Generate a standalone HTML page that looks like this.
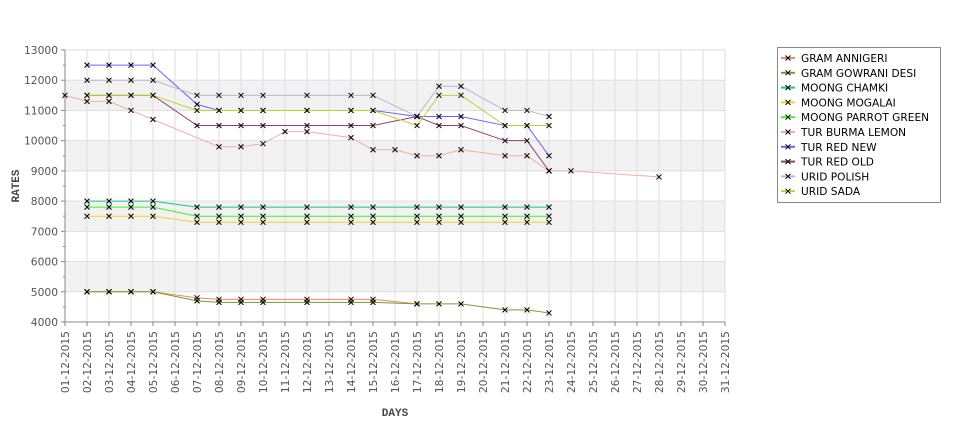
<!DOCTYPE html>
<html><head><meta charset="utf-8"><style>
body{margin:0;background:#fff;width:975px;height:429px;overflow:hidden;font-family:"DejaVu Sans","Liberation Sans",sans-serif}
</style></head><body>
<svg id="chart" width="975" height="429" xmlns="http://www.w3.org/2000/svg">
<g id="bands"></g><g id="grid"></g><g id="axes"></g><g id="series"></g><g id="legend"></g>
</svg>
<script>
const days = ["01-12-2015","02-12-2015","03-12-2015","04-12-2015","05-12-2015","06-12-2015","07-12-2015","08-12-2015","09-12-2015","10-12-2015","11-12-2015","12-12-2015","13-12-2015","14-12-2015","15-12-2015","16-12-2015","17-12-2015","18-12-2015","19-12-2015","20-12-2015","21-12-2015","22-12-2015","23-12-2015","24-12-2015","25-12-2015","26-12-2015","27-12-2015","28-12-2015","29-12-2015","30-12-2015","31-12-2015"];
const yTicks = [4000,5000,6000,7000,8000,9000,10000,11000,12000,13000];
const seriesNames = ["GRAM ANNIGERI","GRAM GOWRANI DESI","MOONG CHAMKI","MOONG MOGALAI","MOONG PARROT GREEN","TUR BURMA LEMON","TUR RED NEW","TUR RED OLD","URID POLISH","URID SADA"];
const seriesColors = ["#f08a60","#7a9a30","#20c090","#f0d030","#40f020","#f0b0a0","#7060ff","#904070","#b8b8d0","#c0d030"];
const dayGramAnnigeri = [2,3,4,5,7,8,9,10,12,14,15,17];
const valGramAnnigeri = [5000,5000,5000,5000,4800,4750,4750,4750,4750,4750,4750,4600];
const dayGramGowrani = [2,3,4,5,7,8,9,10,12,14,15,17,18,19,21,22,23];
const valGramGowrani = [5000,5000,5000,5000,4700,4650,4650,4650,4650,4650,4650,4600,4600,4600,4400,4400,4300];
const dayMoong = [2,3,4,5,7,8,9,10,12,14,15,17,18,19,21,22,23];
const valMoongChamki = [8000,8000,8000,8000,7800,7800,7800,7800,7800,7800,7800,7800,7800,7800,7800,7800,7800];
const valMoongMogalai = [7500,7500,7500,7500,7300,7300,7300,7300,7300,7300,7300,7300,7300,7300,7300,7300,7300];
const valMoongParrot = [7800,7800,7800,7800,7500,7500,7500,7500,7500,7500,7500,7500,7500,7500,7500,7500,7500];
const dayTurBurma = [1,2,3,4,5,8,9,10,11,12,14,15,16,17,18,19,21,22,23,24,28];
const valTurBurma = [11500,11300,11300,11000,10700,9800,9800,9900,10300,10300,10100,9700,9700,9500,9500,9700,9500,9500,9000,9000,8800];
const dayTur = [2,3,4,5,7,8,9,10,12,14,15,17,18,19,21,22,23];
const valTurRedNew = [12500,12500,12500,12500,11200,11000,11000,11000,11000,11000,11000,10800,10800,10800,10500,10500,9500];
const valTurRedOld = [11500,11500,11500,11500,10500,10500,10500,10500,10500,10500,10500,10800,10500,10500,10000,10000,9000];
const valUridPolish = [12000,12000,12000,12000,11500,11500,11500,11500,11500,11500,11500,10800,11800,11800,11000,11000,10800];
const valUridSada = [11500,11500,11500,11500,11000,11000,11000,11000,11000,11000,11000,10500,11500,11500,10500,10500,10500];
const seriesDays = [dayGramAnnigeri,dayGramGowrani,dayMoong,dayMoong,dayMoong,dayTurBurma,dayTur,dayTur,dayTur,dayTur];
const seriesVals = [valGramAnnigeri,valGramGowrani,valMoongChamki,valMoongMogalai,valMoongParrot,valTurBurma,valTurRedNew,valTurRedOld,valUridPolish,valUridSada];

const NS="http://www.w3.org/2000/svg";
const L=65,R=725,T=50,B=322,ymin=4000,ymax=13000;
const x=d=>L+(d-1)*(R-L)/(days.length-1);
const y=v=>B-(v-ymin)*(B-T)/(ymax-ymin);
function mk(tag,attrs,parent,text){const e=document.createElementNS(NS,tag);for(const k in attrs)e.setAttribute(k,attrs[k]);if(text!==undefined)e.textContent=text;parent.appendChild(e);return e;}
const bands=document.getElementById('bands'),grid=document.getElementById('grid'),axes=document.getElementById('axes'),ser=document.getElementById('series'),leg=document.getElementById('legend');
mk('rect',{x:L,y:T,width:R-L,height:B-T,fill:'#fff'},bands);
for(let i=0;i<yTicks.length-1;i++){if(i%2===1){const b=mk('rect',{x:L,y:y(yTicks[i+1]),width:R-L,height:y(yTicks[i])-y(yTicks[i+1]),fill:'#f2f2f2'},bands);

}}
days.forEach((d,i)=>{const g=mk('line',{x1:x(i+1),x2:x(i+1),y1:T,y2:B,stroke:'#dedede','stroke-width':1},grid);


mk('line',{x1:x(i+1),x2:x(i+1),y1:B,y2:B+4,stroke:'#888'},axes);
const lb=mk('text',{transform:`translate(${x(i+1)+4},${B+9}) rotate(-90)`,'text-anchor':'end','font-size':'10.7',fill:'#555'},axes,d);

});
yTicks.forEach(v=>{const g=mk('line',{x1:L,x2:R,y1:y(v),y2:y(v),stroke:'#dedede'},grid);


mk('line',{x1:L-4,x2:L,y1:y(v),y2:y(v),stroke:'#888'},axes);
if(v<ymax)mk('line',{x1:L-2,x2:L,y1:y(v+500),y2:y(v+500),stroke:'#888'},axes);
const lb=mk('text',{x:L-7,y:y(v)+4,'text-anchor':'end','font-size':'10.7',fill:'#555'},axes,v);

});
mk('line',{x1:L,x2:L,y1:T,y2:B,stroke:'#888'},axes);
mk('line',{x1:L,x2:R,y1:B,y2:B,stroke:'#888'},axes);
const yt=mk('text',{transform:'translate(19,186) rotate(-90)','text-anchor':'middle','font-size':'11','font-weight':'bold',fill:'#444','font-family':'Liberation Mono, monospace'},axes,'RATES');


const xt=mk('text',{x:395,y:416,'text-anchor':'middle','font-size':'11','font-weight':'bold',fill:'#444','font-family':'Liberation Mono, monospace'},axes,'DAYS');


function cross(cx,cy,p,col){mk('path',{d:`M${cx-2.5} ${cy-2.5}L${cx+2.5} ${cy+2.5}M${cx-2.5} ${cy+2.5}L${cx+2.5} ${cy-2.5}`,stroke:col,'stroke-width':1},p);}
seriesNames.forEach((n,i)=>{const g=mk('g',{},ser);


const pts=seriesDays[i].map((d,j)=>x(d)+','+y(seriesVals[i][j])).join(' ');
mk('polyline',{points:pts,fill:'none',stroke:seriesColors[i],'stroke-width':1},g);});
seriesNames.forEach((n,i)=>{seriesDays[i].forEach((d,j)=>cross(x(d),y(seriesVals[i][j]),ser,'#000'));});
const lg=mk('rect',{x:777.5,y:47.5,width:163,height:155,fill:'#fff',stroke:'#888'},leg);


seriesNames.forEach((n,i)=>{const g=mk('g',{},leg);


const cy=58+i*14.8;
mk('line',{x1:781,x2:795,y1:cy,y2:cy,stroke:seriesColors[i],'stroke-width':2},g);
cross(788,cy,g,'#000');
mk('text',{x:801,y:cy+4,'font-size':'10.6',fill:'#000'},g,n);});
</script>
</body></html>
